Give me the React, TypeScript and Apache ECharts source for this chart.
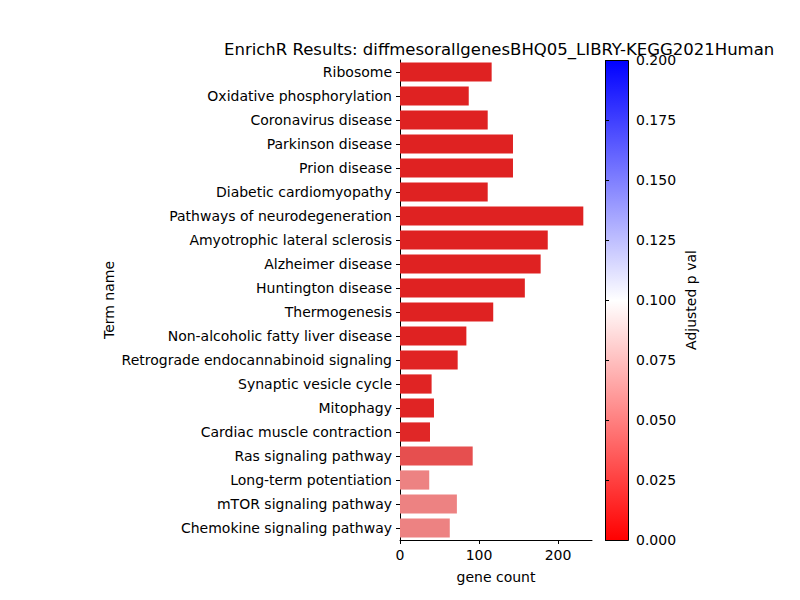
import React, { useEffect, useRef } from 'react';
import * as echarts from 'echarts';

const terms = [
  'Ribosome', 'Oxidative phosphorylation', 'Coronavirus disease', 'Parkinson disease',
  'Prion disease', 'Diabetic cardiomyopathy', 'Pathways of neurodegeneration',
  'Amyotrophic lateral sclerosis', 'Alzheimer disease', 'Huntington disease',
  'Thermogenesis', 'Non-alcoholic fatty liver disease', 'Retrograde endocannabinoid signaling',
  'Synaptic vesicle cycle', 'Mitophagy', 'Cardiac muscle contraction', 'Ras signaling pathway',
  'Long-term potentiation', 'mTOR signaling pathway', 'Chemokine signaling pathway',
];
const geneCounts = [116, 87, 111, 143, 143, 111, 232, 187, 178, 158, 118, 84, 73, 40, 43, 38, 92, 37, 72, 63];
const adjPVals = [0.001, 0.001, 0.001, 0.001, 0.001, 0.001, 0.001, 0.001, 0.001, 0.001, 0.001, 0.001, 0.002, 0.002, 0.002, 0.003, 0.021, 0.044, 0.044, 0.044];

const font = 'DejaVu Sans';

const App: React.FC = () => {
  const chartRef = useRef<HTMLDivElement>(null);

  useEffect(() => {
    document.body.style.margin = '0';
    const chart = echarts.init(chartRef.current!, null, { renderer: 'svg' });
    chart.setOption({
      animation: false,
      textStyle: { fontFamily: font },
      title: {
        text: 'EnrichR Results: diffmesorallgenesBHQ05_LIBRY-KEGG2021Human',
        left: 219, top: 36,
        textStyle: { fontFamily: font, fontSize: 16.5, fontWeight: 'normal', color: '#000' },
      },
      grid: [
        { left: 400, right: 208, top: 60, bottom: 60 },
        { left: 605, width: 23, top: 60, bottom: 60 },
      ],
      xAxis: [
        {
          type: 'value', min: 0, max: 243, interval: 100, gridIndex: 0,
          name: 'gene count', nameLocation: 'middle', nameGap: 30,
          nameTextStyle: { color: '#000', fontSize: 14 },
          axisLine: { show: true, lineStyle: { color: '#000' } },
          axisTick: { show: true, length: 4, lineStyle: { color: '#000' } },
          axisLabel: { color: '#000', fontSize: 14, showMaxLabel: false },
          splitLine: { show: false },
        },
        { type: 'value', gridIndex: 1, show: false, min: 0, max: 1 },
      ],
      yAxis: [
        {
          type: 'category', data: terms, inverse: true, gridIndex: 0,
          name: 'Term name', nameLocation: 'middle', nameGap: 284, nameRotate: 90,
          nameTextStyle: { color: '#000', fontSize: 14 },
          axisLine: { show: true, lineStyle: { color: '#000' } },
          axisTick: { show: true, length: 4, alignWithLabel: true, lineStyle: { color: '#000' } },
          axisLabel: { color: '#000', fontSize: 14 },
        },
        {
          type: 'value', gridIndex: 1, position: 'right', min: 0, max: 0.2, interval: 0.025,
          name: 'Adjusted p val', nameLocation: 'middle', nameGap: 56, nameRotate: 90,
          nameTextStyle: { color: '#000', fontSize: 14 },
          axisLine: { show: false },
          axisTick: { show: true, length: 4, lineStyle: { color: '#000' } },
          axisLabel: { color: '#000', fontSize: 14, formatter: (v: number) => v.toFixed(3) },
          splitLine: { show: false },
        },
      ],
      visualMap: {
        show: false, type: 'continuous', min: 0, max: 0.2, dimension: 2, seriesIndex: 0,
        inRange: { color: ['#df2020', '#ffffff', '#2020df'] },
      },
      series: [
        {
          type: 'bar', xAxisIndex: 0, yAxisIndex: 0, barCategoryGap: '20%',
          data: terms.map((t, i) => [geneCounts[i], t, adjPVals[i]]),
          encode: { x: 0, y: 1 },
        },
      ],
      graphic: [
        {
          type: 'rect', left: 605, top: 60,
          shape: { width: 23, height: 480 },
          style: {
            stroke: '#000', lineWidth: 1,
            fill: new echarts.graphic.LinearGradient(0, 0, 0, 1, [
              { offset: 0, color: '#0000ff' },
              { offset: 0.5, color: '#ffffff' },
              { offset: 1, color: '#ff0000' },
            ]),
          },
        },
      ],
    });
    return () => chart.dispose();
  }, []);

  return <div ref={chartRef} style={{ width: 800, height: 600 }} />;
};

export default App;
